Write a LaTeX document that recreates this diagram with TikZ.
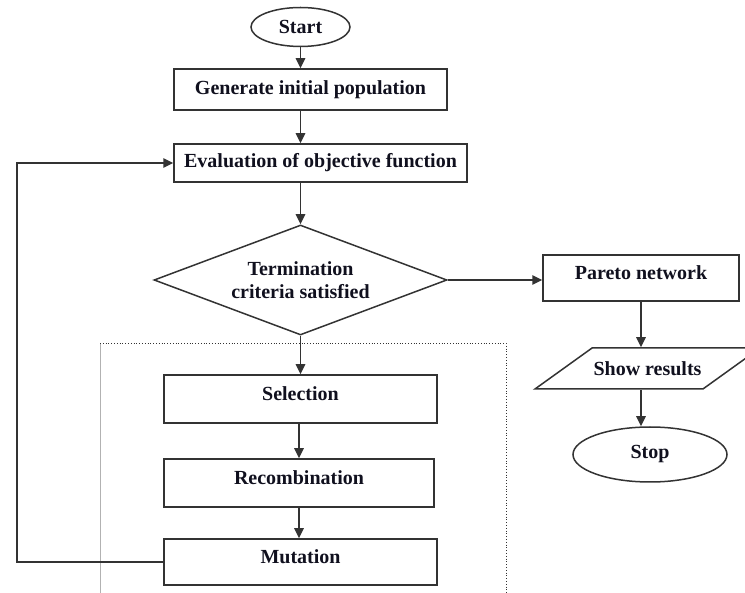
\documentclass[tikz,border=0pt]{standalone}
\usepackage{fontspec}
\setmainfont{Liberation Serif}
\usetikzlibrary{shapes.geometric,arrows.meta}
\definecolor{ln}{HTML}{333333}
\definecolor{txt}{HTML}{10101E}
\begin{document}
\begin{tikzpicture}[x=1pt,y=-1pt,
  base/.style={draw=ln, line width=1.5pt, inner sep=0pt, text=txt,
    font=\bfseries\fontsize{20}{23}\selectfont, align=center},
  box/.style={base, rectangle},
  up/.style={text depth=10pt},
  term/.style={base, ellipse},
  decide/.style={base, diamond, aspect=2.66},
  io/.style={base, trapezium, trapezium left angle=35.7, trapezium right angle=144.3,
    trapezium stretches body, text height=13.5pt, text depth=0pt, inner ysep=13.75pt},
  arr/.style={draw=ln, line width=1.5pt, -{Triangle[width=9.5pt,length=10pt]}},
  link/.style={draw=ln, line width=1.5pt}]
\useasboundingbox (0,0) rectangle (745,593);
% dotted group frame
\draw[gray!60, line width=1pt] (100,343) -- (100,600);
\draw[ln, dotted, line width=0.8pt] (100,343) -- (506,343) -- (506,600);

\node[term, minimum width=99, minimum height=39] (start) at (300.5,27) {Start};
\node[box, minimum width=273, minimum height=41] (gen) at (310.5,89.5) {Generate initial population};
\node[box, minimum width=293, minimum height=38] (eval) at (320.5,163) {Evaluation of objective function};
\node[decide, minimum width=293, minimum height=110] (dec) at (300.5,280) {Termination\\criteria satisfied};
\node[box, up, minimum width=273, minimum height=48] (sel) at (300.5,399) {Selection};
\node[box, up, minimum width=270, minimum height=48] (rec) at (299,483) {Recombination};
\node[box, up, minimum width=273, minimum height=46] (mut) at (300.5,562) {Mutation};
\node[box, up, minimum width=196, minimum height=46] (par) at (641,278) {Pareto network};
\node[io, minimum width=225] (show) at (647.5,368.5) {Show results};
\node[term, minimum width=154, minimum height=55] (stop) at (650,454.5) {Stop};
\coordinate (lp) at (17,0);

\draw[arr] (start.south) -- (start.south |- gen.north);
\draw[arr] (start.south |- gen.south) -- (start.south |- eval.north);
\draw[arr] (dec.north |- eval.south) -- (dec.north);
\draw[arr] (dec.east) -- (dec.east -| par.west);
\draw[arr] (dec.south) -- (sel.north);
\draw[arr] (rec.north |- sel.south) -- (rec.north);
\draw[arr] (rec.south) -- (rec.south |- mut.north);
\draw[arr] (mut.west) -- (mut.west -| lp) |- (eval.west);
\draw[arr] (par.south) -- (par.south |- show.north);
\draw[arr] (par.south |- show.south) -- (par.south |- stop.north);
\end{tikzpicture}
\end{document}
